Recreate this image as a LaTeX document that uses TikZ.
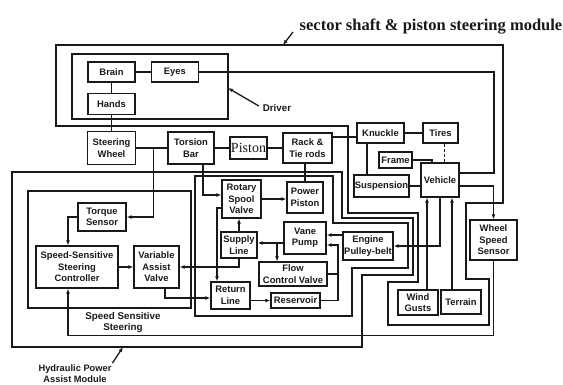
\documentclass[tikz,border=0pt]{standalone}
\usepackage{fontspec}
\setmainfont{Liberation Sans}
\newfontfamily\titleserif{Liberation Serif}
\usetikzlibrary{arrows.meta, positioning, calc}
\definecolor{inkblack}{RGB}{25,25,25}

\begin{document}
\begin{tikzpicture}[
        x=1pt, y=-1pt,
        color=inkblack, line width=1.3pt,
        node distance=10pt,
        box/.style={rectangle, draw=inkblack, line width=1.3pt, inner sep=1pt, align=center, font=\fontsize{9.4}{11.4}\selectfont\bfseries},
        lbl/.style={align=center, font=\fontsize{9.8}{11}\selectfont\bfseries},
        arr/.style={-{Latex[length=5pt, width=4pt]}},
        module/.style={draw=inkblack, line width=1.3pt}
    ]
        \useasboundingbox (0,0) rectangle (563,385);

        \draw[module] (56,45) -- (503,45) -- (503,203) -- (466,203) -- (466,279) -- (489,279) -- (489,325) -- (388,325) -- (388,282) -- (418,282) -- (418,213) -- (348,213) -- (348,126) -- (56,126) -- cycle;
        \draw[module] (72,54) rectangle (228,119);
        \draw[module] (12,172) -- (342,172) -- (342,218) -- (413,218) -- (413,275) -- (362,275) -- (362,347) -- (12,347) -- cycle;
        \draw[module] (195,176) -- (333,176) -- (333,223) -- (408,223) -- (408,268) -- (352,268) -- (352,316) -- (195,316) -- cycle;
        \draw[module] (28,191) rectangle (191,308);

        \node[box, minimum width=47pt, minimum height=20pt] (brain) at (111.5,72) {Brain};
        \node[box, minimum width=47pt, minimum height=20pt, right=15pt of brain] (eyes) {Eyes};
        \node[box, minimum width=47pt, minimum height=21pt, below=of brain] (hands) {Hands};
        \node[box, minimum width=48pt, minimum height=33pt] (wheel) at (111.5,148) {Steering\\Wheel};
        \node[box, minimum width=46pt, minimum height=32pt] (torsion) at (191,148) {Torsion\\Bar};
        \node[box, minimum width=37pt, minimum height=22pt, font=\titleserif\fontsize{14}{14}\selectfont] (piston) at (248.5,148) {Piston};
        \node[box, minimum width=49pt, minimum height=30pt] (rack) at (307.5,148) {Rack \&\\Tie rods};
        \node[box, minimum width=47pt, minimum height=20pt] (knuckle) at (380.5,133) {Knuckle};
        \node[box, minimum width=35pt, minimum height=20pt] (tires) at (440.5,133) {Tires};
        \node[box, minimum width=33pt, minimum height=16pt] (frame) at (395.5,160) {Frame};
        \node[box, minimum width=55pt, minimum height=22pt] (suspension) at (381.5,186) {Suspension};
        \node[box, minimum width=38pt, minimum height=34pt] (vehicle) at (440,180) {Vehicle};
        \node[box, minimum width=39pt, minimum height=38pt] (spool) at (241.5,199) {Rotary\\Spool\\Valve};
        \node[box, minimum width=36pt, minimum height=31pt] (ppiston) at (305,197.5) {Power\\Piston};
        \node[box, minimum width=42pt, minimum height=32pt] (pump) at (305,238) {Vane\\Pump};
        \node[box, minimum width=36pt, minimum height=26pt] (supply) at (239,245) {Supply\\Line};
        \node[box, minimum width=50pt, minimum height=28pt] (engine) at (368,246) {Engine\\Pulley-belt};
        \node[box, minimum width=68pt, minimum height=24pt] (flow) at (293,274) {Flow\\Control Valve};
        \node[box, minimum width=39pt, minimum height=27pt] (retline) at (230.5,295.5) {Return\\Line};
        \node[box, minimum width=49pt, minimum height=15pt] (reservoir) at (295.5,300.5) {Reservoir};
        \node[box, minimum width=48pt, minimum height=28pt] (torque) at (102,217) {Torque\\Sensor};
        \node[box, minimum width=82pt, minimum height=42pt] (controller) at (77,267) {Speed-Sensitive\\Steering\\Controller};
        \node[box, minimum width=45pt, minimum height=42pt] (vav) at (156.5,267) {Variable\\Assist\\Valve};
        \node[box, minimum width=47pt, minimum height=40pt] (wss) at (493.5,240) {Wheel\\Speed\\Sensor};
        \node[box, minimum width=40pt, minimum height=25pt] (wind) at (418,302.5) {Wind\\Gusts};
        \node[box, minimum width=40pt, minimum height=24pt] (terrain) at (461,302) {Terrain};

        \node[font=\titleserif\fontsize{16.5}{18}\selectfont\bfseries] (title) at (431,27) {sector shaft \& piston steering module};
        \node[lbl] (driverlbl) at (277,108) {Driver};
        \node[lbl] (sslbl) at (123,322) {Speed Sensitive\\Steering};
        \node[lbl, font=\fontsize{9.3}{11}\selectfont\bfseries] (hydlbl) at (75,374) {Hydraulic Power\\Assist Module};

        \coordinate (sectorlbl) at (293,32);
        \coordinate (sectorpt) at (283,45);
        \coordinate (driverpt) at (228,88);
        \coordinate (hydpt) at (123,347);
        \coordinate (pumpsplit) at (277,243);
        \coordinate (backflow) at (338,245);

        \draw[arr] (sectorlbl) -- (sectorpt);
        \draw[arr] ([yshift=2pt]driverlbl.west) -- (driverpt);
        \draw[arr] ([xshift=-3pt, yshift=-2pt]hydlbl.north east) -- (hydpt);

        \draw (brain) -- (eyes);
        \draw (brain) -- (hands);
        \draw (hands.south) -- (hands.south |- wheel.north);
        \draw (eyes.east) -- ++(295,0) |- ([yshift=7pt]vehicle.east);
        \draw (wheel) -- (torsion) (torsion) -- (piston) (piston) -- (rack);
        \draw[arr] ([xshift=17pt]wheel.east) |- (torque.east);
        \draw ([yshift=11pt]rack.east) -- ([yshift=11pt]rack.east -| knuckle.west);
        \draw (knuckle) -- (tires);
        \draw ([xshift=-13.5pt]knuckle.south) -- ([xshift=-13.5pt]knuckle.south |- suspension.north);
        \draw[densely dashed, line width=1pt] ([xshift=3.5pt]tires.south) -- ([xshift=3.5pt]tires.south |- vehicle.north);
        \draw (frame.east) -| ([xshift=-8pt]vehicle.north);
        \draw (suspension.east) -- (suspension.east -| vehicle.west);

        \draw[arr] ([xshift=12pt]torsion.south) |- ([yshift=4pt]spool.west);
        \draw (ppiston.north |- rack.south) -- (ppiston.north);
        \draw[arr] (spool.east) -- (spool.east -| ppiston.west);
        \draw[arr] (supply.north) -- (supply.north |- spool.south);
        \draw[arr] ([yshift=-5pt]pump.west) -- ([yshift=-5pt]pump.west -| supply.east);
        \draw[arr] (pumpsplit) -- (pumpsplit |- flow.north);
        \draw[arr] ([yshift=11pt]engine.west) -- ([yshift=11pt]engine.west -| pump.east);
        \draw[arr] (reservoir.east) -| (backflow) -- (backflow -| pump.east);
        \draw (flow.east) -- (flow.east -| backflow);
        \fill (flow.east -| backflow) circle (1.4pt);
        \draw[arr] (supply.south) |- (vav.east);
        \draw[arr] ([yshift=-9pt]spool.west) -| ([xshift=-13.5pt]retline.north);
        \draw[arr] ([xshift=8.5pt]vav.south) |- ([yshift=-2.5pt]retline.west);
        \draw[arr] (reservoir.west -| retline.east) -- (reservoir.west);

        \draw[arr] (controller) -- (vav);
        \draw[arr] (torque.west) -| ([xshift=-9pt]controller.north);
        \draw[arr] (wss.south) -- ++(0,75) -| ([xshift=-9pt]controller.south);
        \draw[arr] ([yshift=-6pt]vehicle.east) -| (wss.north);
        \draw[arr] (vehicle.south) |- (engine.east);
        \draw[arr] ([xshift=9pt]wind.north) -- ([xshift=9pt]wind.north |- vehicle.south);
        \draw[arr] ([xshift=-9pt]terrain.north) -- ([xshift=-9pt]terrain.north |- vehicle.south);
    \end{tikzpicture}
\end{document}
